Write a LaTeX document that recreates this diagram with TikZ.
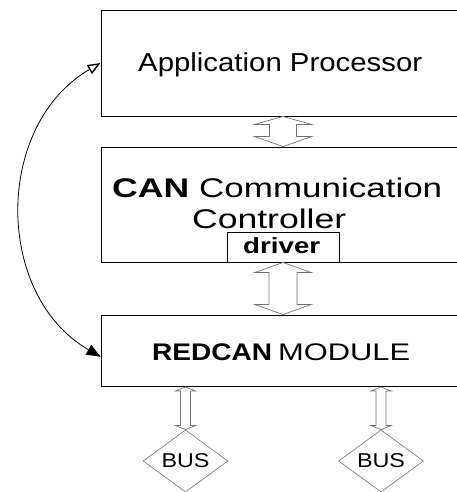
\documentclass[tikz,border=0pt]{standalone}
\usepackage{fontspec}
\setmainfont{Liberation Sans}
\usetikzlibrary{shapes.geometric,arrows.meta,calc}
% set text at a given size and stretch it to a given width
\newcommand{\fitted}[3]{\resizebox{#1pt}{\height}{\fontsize{#2pt}{#2pt}\selectfont #3}}
% hollow double-headed block arrow between two tip points
% #1 top tip, #2 bottom tip, #3 half head width, #4 half shaft width, #5 top head length, #6 bottom head length
\newcommand{\dblarrow}[6]{%
  \draw[hollowarrow] (#1) -- ++(#3,#5) -- ++({-(#3-#4)},0) -- ($(#2)+(#4,-#6)$)
    -- ++({#3-#4},0) -- (#2) -- ++(-#3,-#6) -- ++({#3-#4},0)
    -- ($(#1)+(-#4,#5)$) -- ++({-(#3-#4)},0) -- cycle;}
\begin{document}
\begin{tikzpicture}[x=1pt,y=-1pt,
  block/.style={draw=black,line width=0.9pt,fill=white,rectangle,inner sep=0pt},
  txt/.style={inner sep=0pt,text=black},
  hollowarrow/.style={draw=black!55,line width=0.7pt,fill=white,line join=miter},
  busshape/.style={diamond,draw=black!50,line width=0.7pt,inner sep=0pt,
    minimum width=85pt,minimum height=62pt}]
\useasboundingbox (0,0) rectangle (457,492);
\clip (0,0) rectangle (457,492);

% main blocks
\node[block,minimum width=364pt,minimum height=106pt] (b1) at (283,63) {};
\node[block,minimum width=364pt,minimum height=115pt] (b2) at (283,204.5) {};
\node[block,minimum width=364pt,minimum height=71.5pt] (b3) at (283,350.75) {};
\node[block,minimum width=112pt,minimum height=30pt] (drv) at (283,247) {};

% block labels
\node[txt,anchor=base west] (tapp) at (138,72) {\fitted{284}{26}{Application Processor}};
\node[txt,anchor=base west] (tcan) at (112,197) {\fitted{77}{27}{\bfseries CAN}};
\node[txt,anchor=base west] (tcom) at (199,197) {\fitted{243}{27}{Communication}};
\node[txt,anchor=base west] (tctl) at (192,228) {\fitted{154}{27}{Controller}};
\node[txt,anchor=base west] (tdrv) at (243,253) {\fitted{77}{22}{\bfseries driver}};
\node[txt,anchor=base west] (tred) at (152,360) {\fitted{120}{24}{\bfseries REDCAN}};
\node[txt,anchor=base west] (tmod) at (278,360) {\fitted{132}{24}{MODULE}};

% bus terminals
\node[busshape] (d1) at (185.5,461) {\fitted{48}{20}{BUS}};
\node[busshape] (d2) at (381,461) {\fitted{48}{20}{BUS}};

% data paths between blocks
\dblarrow{b1.south}{b2.north}{28.5}{13.5}{8}{10}
\dblarrow{b2.south}{b3.north}{28}{14}{10}{10}
\dblarrow{d1.north |- b3.south}{d1.north}{10}{5}{4}{4}
\dblarrow{d2.north |- b3.south}{d2.north}{10}{5}{4}{4}

% direct link between processor and redundancy module
\draw[line width=0.8pt,
  {Triangle[open,length=13pt,width=10pt,line width=1.4pt]}-{Triangle[length=14pt,width=11pt]}]
  (b1.west) .. controls (-6,125) and (-6,295) .. ([yshift=-6pt]b3.west);
\end{tikzpicture}
\end{document}
